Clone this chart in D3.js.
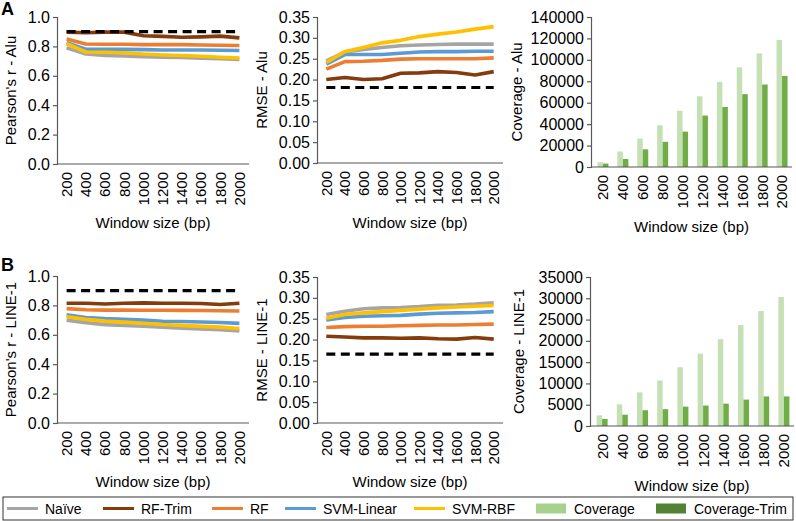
<!DOCTYPE html>
<html>
<head>
<meta charset="utf-8">
<script src="https://cdn.jsdelivr.net/npm/d3@7"></script>
<style>
  html, body { margin: 0; padding: 0; background: #fff; }
  svg { display: block; font-family: "Liberation Sans", Arial, sans-serif; }
</style>
</head>
<body>
<svg id="chart" width="796" height="521"></svg>
<script>
// ---------------- DATA ----------------
const windows = ["200","400","600","800","1000","1200","1400","1600","1800","2000"];
const seriesNames = ["Naïve","RF-Trim","RF","SVM-Linear","SVM-RBF"];
const barNames = ["Coverage","Coverage-Trim"];

// Alu – Pearson's r
const aluR_naive  = [0.790,0.748,0.738,0.735,0.730,0.727,0.725,0.720,0.716,0.712];
const aluR_rfTrim = [0.897,0.893,0.897,0.897,0.872,0.868,0.862,0.865,0.870,0.858];
const aluR_rf     = [0.850,0.816,0.815,0.815,0.812,0.812,0.812,0.810,0.808,0.806];
const aluR_svmLin = [0.826,0.781,0.780,0.780,0.778,0.776,0.776,0.775,0.774,0.772];
const aluR_svmRbf = [0.818,0.762,0.760,0.757,0.748,0.742,0.738,0.733,0.726,0.720];
const aluR_ref = 0.90;

// Alu – RMSE
const aluE_naive  = [0.245,0.266,0.272,0.277,0.281,0.283,0.284,0.285,0.285,0.285];
const aluE_rfTrim = [0.200,0.205,0.200,0.202,0.215,0.216,0.219,0.217,0.211,0.219];
const aluE_rf     = [0.225,0.243,0.244,0.246,0.249,0.250,0.250,0.250,0.250,0.252];
const aluE_svmLin = [0.237,0.260,0.260,0.260,0.263,0.266,0.267,0.267,0.268,0.268];
const aluE_svmRbf = [0.241,0.267,0.277,0.288,0.294,0.303,0.309,0.314,0.321,0.327];
const aluE_ref = 0.181;

// Alu – Coverage
const aluC_cov  = [4500,14500,26500,39000,52500,66000,79500,93000,106000,118500];
const aluC_trim = [3200,7500,16500,23500,33000,48000,56000,68000,77000,85000];

// LINE-1 – Pearson's r
const l1R_naive  = [0.700,0.683,0.669,0.664,0.658,0.651,0.645,0.640,0.635,0.627];
const l1R_rfTrim = [0.815,0.815,0.810,0.815,0.817,0.815,0.815,0.813,0.806,0.815];
const l1R_rf     = [0.778,0.770,0.768,0.768,0.767,0.767,0.766,0.765,0.764,0.762];
const l1R_svmLin = [0.737,0.718,0.710,0.705,0.700,0.692,0.690,0.687,0.684,0.678];
const l1R_svmRbf = [0.723,0.705,0.693,0.686,0.679,0.670,0.664,0.657,0.652,0.643];
const l1R_ref = 0.90;

// LINE-1 – RMSE
const l1E_naive  = [0.260,0.268,0.274,0.276,0.277,0.279,0.282,0.283,0.285,0.288];
const l1E_rfTrim = [0.208,0.206,0.204,0.204,0.203,0.204,0.202,0.201,0.205,0.201];
const l1E_rf     = [0.229,0.231,0.232,0.232,0.233,0.234,0.235,0.235,0.236,0.237];
const l1E_svmLin = [0.247,0.253,0.256,0.257,0.258,0.261,0.263,0.264,0.265,0.267];
const l1E_svmRbf = [0.251,0.260,0.264,0.267,0.270,0.273,0.276,0.278,0.280,0.282];
const l1E_ref = 0.165;

// LINE-1 – Coverage
const l1C_cov  = [2500,5100,7900,10700,13800,17000,20400,23700,27000,30300];
const l1C_trim = [1650,2650,3700,3950,4550,4800,5250,6200,6950,6950];

// tick values
const rTicks = [0,0.2,0.4,0.6,0.8,1.0];
const eTicks = [0,0.05,0.10,0.15,0.20,0.25,0.30,0.35];
const aluCTicks = [0,20000,40000,60000,80000,100000,120000,140000];
const l1CTicks = [0,5000,10000,15000,20000,25000,30000,35000];

// ---------------- STYLE ----------------
const lineColors = ["#A5A5A5","#843C0C","#ED7D31","#5B9BD5","#FFC000"];
const barColors = ["#C5E0B4","#70AD47"];
const legendBarColors = ["#A9D18E","#548235"];
const axisColor = "#595959";
const FONT = 15;
const YFONT = 16;

const svg = d3.select("#chart");

// panel layout
const panels = [
  {type:"line", lines:[aluR_naive,aluR_rfTrim,aluR_rf,aluR_svmLin,aluR_svmRbf], ref:aluR_ref,
   ticks:rTicks, fmt:d3.format(".1f"), title:"Pearson's r - Alu",
   ax:57, x0:57, x1:249, top:17, bottom:164, titleX:11, xTitleY:228},
  {type:"line", lines:[aluE_naive,aluE_rfTrim,aluE_rf,aluE_svmLin,aluE_svmRbf], ref:aluE_ref,
   ticks:eTicks, fmt:d3.format(".2f"), title:"RMSE - Alu",
   ax:317, x0:317, x1:503, top:17, bottom:163, titleX:262, xTitleY:228},
  {type:"bar", bars:[aluC_cov, aluC_trim],
   ticks:aluCTicks, fmt:d3.format("d"), title:"Coverage - Alu",
   ax:591, x0:593, x1:792, top:17, bottom:167, titleX:517, xTitleY:232},
  {type:"line", lines:[l1R_naive,l1R_rfTrim,l1R_rf,l1R_svmLin,l1R_svmRbf], ref:l1R_ref,
   ticks:rTicks, fmt:d3.format(".1f"), title:"Pearson's r - LINE-1",
   ax:57, x0:57, x1:249, top:276, bottom:423, titleX:11, xTitleY:487},
  {type:"line", lines:[l1E_naive,l1E_rfTrim,l1E_rf,l1E_svmLin,l1E_svmRbf], ref:l1E_ref,
   ticks:eTicks, fmt:d3.format(".2f"), title:"RMSE - LINE-1",
   ax:317, x0:317, x1:503, top:277, bottom:423, titleX:262, xTitleY:487},
  {type:"bar", bars:[l1C_cov, l1C_trim],
   ticks:l1CTicks, fmt:d3.format("d"), title:"Coverage - LINE-1",
   ax:590, x0:592, x1:794, top:277, bottom:426, titleX:519, xTitleY:491}
];

panels.forEach(p => {
  const g = svg.append("g");
  const x = d3.scaleBand().domain(windows).range([p.x0, p.x1]);
  const yMax = p.ticks[p.ticks.length-1];
  const y = d3.scaleLinear().domain([0, yMax]).range([p.bottom, p.top]);

  // marks
  if (p.type === "line") {
    const line = d3.line().x((d,i) => x(windows[i]) + x.bandwidth()/2).y(d => y(d));
    p.lines.forEach((vals, k) => {
      g.append("path").datum(vals)
        .attr("d", line)
        .attr("fill","none")
        .attr("stroke", lineColors[k])
        .attr("stroke-width", 3.6)
        .attr("stroke-linejoin","round")
        .attr("stroke-linecap","butt");
    });
    const refVals = windows.map(() => p.ref);
    g.append("path").datum(refVals)
      .attr("d", line)
      .attr("fill","none")
      .attr("stroke","#000")
      .attr("stroke-width",3.2)
      .attr("stroke-dasharray","9,5.5");
  } else {
    const bw = 5.5;
    p.bars.forEach((vals, k) => {
      g.selectAll(null).data(vals).enter().append("rect")
        .attr("x", (d,i) => x(windows[i]) + x.bandwidth()/2 - bw + k*bw)
        .attr("width", bw)
        .attr("y", d => y(d))
        .attr("height", d => p.bottom - y(d))
        .attr("fill", barColors[k]);
    });
  }

  // y axis
  const yAx = g.append("g").attr("transform", `translate(${p.ax},0)`)
    .call(d3.axisLeft(y).tickValues(p.ticks).tickFormat(p.fmt).tickSize(4).tickSizeOuter(4).tickPadding(3));
  yAx.select(".domain").attr("stroke", axisColor).attr("stroke-width",1.2);
  yAx.selectAll(".tick line").attr("stroke", axisColor).attr("stroke-width",1.2);
  yAx.selectAll("text").attr("font-size", YFONT).attr("fill","#000")
    .attr("font-family","Liberation Sans, Arial, sans-serif");

  // x axis
  const xAx = g.append("g").attr("transform", `translate(0,${p.bottom})`)
    .call(d3.axisBottom(x).tickSize(0).tickSizeOuter(0).tickPadding(0));
  xAx.select(".domain").remove();
  g.append("line").attr("x1", p.ax).attr("x2", p.x1).attr("y1", p.bottom).attr("y2", p.bottom)
    .attr("stroke", axisColor).attr("stroke-width",1.2);
  xAx.selectAll("text")
    .attr("font-size", FONT).attr("fill","#000")
    .attr("font-family","Liberation Sans, Arial, sans-serif")
    .attr("text-anchor","end")
    .attr("transform","rotate(-90)")
    .attr("x", -8).attr("y", 0).attr("dy","0.36em");

  // axis titles
  g.append("text")
    .attr("transform", `translate(${p.titleX},${(p.top+p.bottom)/2}) rotate(-90)`)
    .attr("text-anchor","middle").attr("dy","0.36em")
    .attr("font-size", FONT).attr("fill","#000")
    .text(p.title);
  g.append("text")
    .attr("x", (p.ax + p.x1)/2).attr("y", p.xTitleY)
    .attr("text-anchor","middle")
    .attr("font-size", FONT).attr("fill","#000")
    .text("Window size (bp)");
});

// panel letters
svg.append("text").attr("x",1).attr("y",15).attr("font-size",18).attr("font-weight","bold").text("A");
svg.append("text").attr("x",1).attr("y",271).attr("font-size",18).attr("font-weight","bold").text("B");

// legend
const lg = svg.append("g");
lg.append("rect").attr("x",3).attr("y",497).attr("width",790).attr("height",23)
  .attr("fill","#fff").attr("stroke","#333").attr("stroke-width",1);
const legendItems = [
  {name:seriesNames[0], kind:"line", color:lineColors[0], x:7},
  {name:seriesNames[1], kind:"line", color:lineColors[1], x:103},
  {name:seriesNames[2], kind:"line", color:lineColors[2], x:212},
  {name:seriesNames[3], kind:"line", color:lineColors[3], x:285},
  {name:seriesNames[4], kind:"line", color:lineColors[4], x:414},
  {name:barNames[0], kind:"rect", color:legendBarColors[0], x:536},
  {name:barNames[1], kind:"rect", color:legendBarColors[1], x:656}
];
const ly = 508.5;
legendItems.forEach(it => {
  if (it.kind === "line") {
    lg.append("line").attr("x1", it.x).attr("x2", it.x+31).attr("y1", ly).attr("y2", ly)
      .attr("stroke", it.color).attr("stroke-width", 3);
  } else {
    lg.append("rect").attr("x", it.x).attr("y", ly-5).attr("width", 30).attr("height", 10)
      .attr("fill", it.color);
  }
  lg.append("text").attr("x", it.x + 38).attr("y", ly).attr("dy","0.36em")
    .attr("font-size", 14).attr("fill","#000").text(it.name);
});
</script>
</body>
</html>
